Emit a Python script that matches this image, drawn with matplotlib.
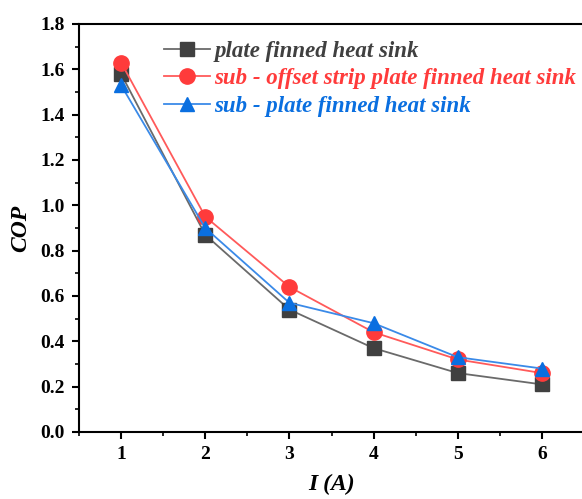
import matplotlib.pyplot as plt
from matplotlib.ticker import MultipleLocator

# current (A)
current = [1, 2, 3, 4, 5, 6]

# COP values
cop_plate = [1.58, 0.87, 0.54, 0.37, 0.26, 0.21]
cop_offset = [1.63, 0.95, 0.64, 0.44, 0.32, 0.26]
cop_sub_plate = [1.53, 0.90, 0.57, 0.48, 0.33, 0.28]

labels = ['plate finned heat sink',
          'sub - offset strip plate finned heat sink',
          'sub - plate finned heat sink']
colors = ['#404040', '#ff3b3b', '#0a6fe0']
line_colors = ['#6a6a6a', '#ff5a5a', '#3a8ae8']
markers = ['s', 'o', '^']

plt.rcParams['font.family'] = ['Liberation Serif', 'DejaVu Serif']

fig = plt.figure(figsize=(5.82, 4.99), dpi=100)
ax = fig.add_axes([79 / 582, 1 - 432 / 499, 505 / 582, 408 / 499])

for y, lab, c, lc, m in zip([cop_plate, cop_offset, cop_sub_plate], labels, colors, line_colors, markers):
    ax.plot(current, y, color=lc, lw=1.3, marker=m, markersize=10 if m != 'o' else 11,
            markerfacecolor=c, markeredgecolor=c, label=lab)

ax.set_xlim(0.5, 6.5)
ax.set_ylim(0, 1.8)
ax.xaxis.set_major_locator(MultipleLocator(1))
ax.xaxis.set_minor_locator(MultipleLocator(0.5))
ax.yaxis.set_major_locator(MultipleLocator(0.2))
ax.yaxis.set_minor_locator(MultipleLocator(0.1))
ax.tick_params(which='major', direction='out', length=5, width=1.5, labelsize=14, pad=5)
ax.tick_params(which='minor', direction='out', length=3, width=1.2)
for lbl in ax.get_xticklabels():
    lbl.set_fontweight('bold')
ax.set_yticklabels(['%.1f' % v for v in ax.get_yticks()], fontweight='bold')
for s in ax.spines.values():
    s.set_linewidth(1.5)

ax.set_xlabel('I (A)', fontsize=17, fontweight='bold', fontstyle='italic', labelpad=8)
ax.set_ylabel('COP', fontsize=17, fontweight='bold', fontstyle='italic', labelpad=7)

leg = ax.legend(loc='upper left', bbox_to_anchor=(0.15, 0.982), frameon=False,
                prop={'size': 16.5, 'weight': 'bold', 'style': 'italic'},
                handlelength=2.0, handletextpad=0.2, labelspacing=0.3, borderaxespad=0)
for txt, c in zip(leg.get_texts(), colors):
    txt.set_color(c)

fig.savefig('out.png', dpi=100)
